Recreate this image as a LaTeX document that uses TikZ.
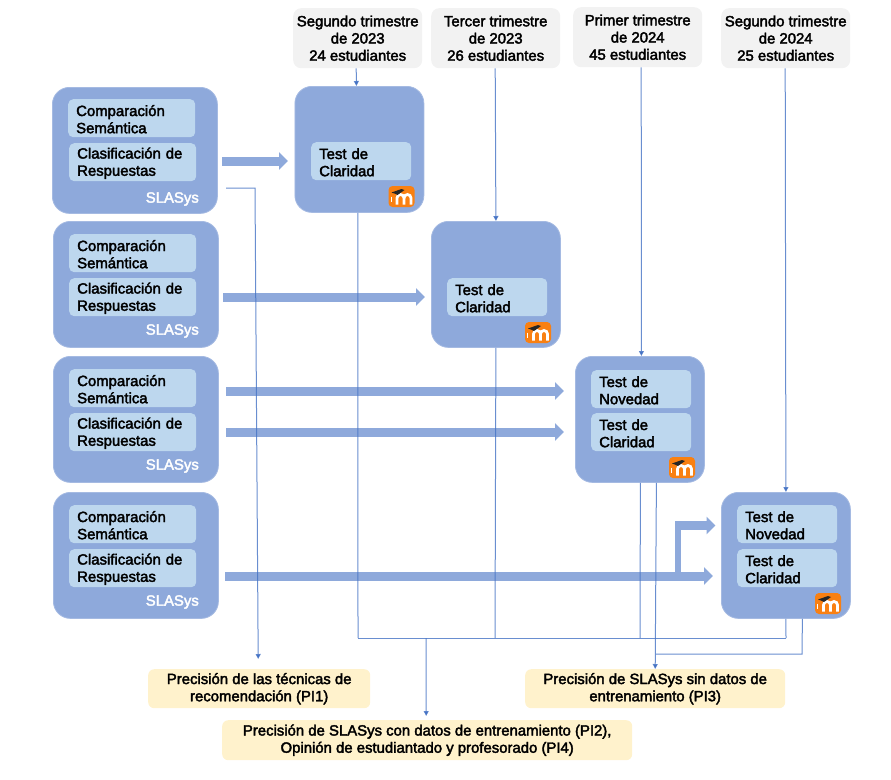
\documentclass[tikz,border=0pt]{standalone}
\usepackage{fontspec}
\setmainfont{Liberation Sans}[RawFeature={embolden=2.5}]
\usetikzlibrary{arrows.meta}
\definecolor{outerblue}{HTML}{8EA9DB}
\definecolor{innerblue}{HTML}{BDD7EE}
\definecolor{headgray}{HTML}{F2F2F2}
\definecolor{resultyellow}{HTML}{FFF2CC}
\definecolor{wireblue}{HTML}{4472C4}
\definecolor{moodleorange}{HTML}{F98012}
\begin{document}
\begin{tikzpicture}[x=1pt,y=-1pt,
    txt/.style={font=\fontsize{14.9}{17.2}\selectfont,text=black},
    outerbox/.style={draw=outerblue!80!white,line width=0.8pt,fill=outerblue,rounded corners=17pt,anchor=north west,minimum height=126pt},
    slabox/.style={outerbox,minimum width=165pt},
    moodlebox/.style={outerbox,minimum width=129pt},
    methodbox/.style={txt,fill=innerblue,rounded corners=5pt,anchor=north west,align=left,text width=111pt,inner xsep=8pt,inner ysep=0pt,minimum height=38pt,execute at begin node={\rule{0pt}{13pt}}},
    testbox/.style={methodbox,text width=84pt},
    slalabel/.style={font=\fontsize{14.9}{17}\selectfont,text=white,anchor=east,inner sep=0pt},
    headbox/.style={txt,fill=headgray,rounded corners=8pt,anchor=north west,align=center,minimum width=129pt,minimum height=60pt,inner sep=0pt},
    resultbox/.style={txt,fill=resultyellow,rounded corners=6pt,anchor=north west,align=center,minimum height=39pt,inner sep=0pt},
    bigarrow/.style={draw=outerblue,line width=9pt,-{Triangle[length=9pt,width=17pt]}},
    thinline/.style={draw=wireblue,draw opacity=0.8,line width=1pt},
    thinarrow/.style={thinline,-{Triangle[length=5pt,width=5pt]}},
    moodle/.pic={
      \fill[moodleorange,rounded corners=4pt] (-13,-10.5) rectangle (13,10.5);
      \draw[white,line width=2.8pt] (-4.5,8) -- (-4.5,1.5) arc[start angle=180,end angle=360,radius=3.5] -- (2.5,8);
      \draw[white,line width=2.8pt] (2.5,1.5) arc[start angle=180,end angle=360,radius=3.5] -- (9.5,8);
      \draw[white,line width=0.8pt] (-10.5,0) -- (-10.5,5);
      \fill[black!85] (-10,-4) -- (0,-7.5) -- (3,-6.5) -- (-4,-1.5) -- (-7,-3) -- cycle;
    }]
\useasboundingbox (0,0) rectangle (891,779);
\draw (52,87) node[slabox] (sla1) {};
\draw (53,221) node[slabox] (sla2) {};
\draw (53,356) node[slabox] (sla3) {};
\draw (53,492) node[slabox] (sla4) {};
\draw (68,99) node[methodbox] (comp1) {Comparación\\Semántica};
\draw (69,143) node[methodbox] (clas1) {Clasificación de\\Respuestas};
\draw (69,234) node[methodbox] (comp2) {Comparación\\Semántica};
\draw (69,278) node[methodbox] (clas2) {Clasificación de\\Respuestas};
\draw (69,369) node[methodbox] (comp3) {Comparación\\Semántica};
\draw (69,413) node[methodbox] (clas3) {Clasificación de\\Respuestas};
\draw (69,505) node[methodbox] (comp4) {Comparación\\Semántica};
\draw (69,549) node[methodbox] (clas4) {Clasificación de\\Respuestas};
\draw (199,199) node[slalabel] (lab1) {SLASys};
\draw (199,331) node[slalabel] (lab2) {SLASys};
\draw (199,466) node[slalabel] (lab3) {SLASys};
\draw (199,602) node[slalabel] (lab4) {SLASys};
\draw (294.5,86) node[moodlebox] (test1) {};
\draw (431,221) node[moodlebox] (test2) {};
\draw (575,356) node[moodlebox] (test3) {};
\draw (721,492) node[moodlebox] (test4) {};
\draw (311,142) node[testbox] (cla1) {Test de\\Claridad};
\draw (447,278) node[testbox] (cla2) {Test de\\Claridad};
\draw (591,370) node[testbox] (nov3) {Test de\\Novedad};
\draw (591,413) node[testbox] (cla3) {Test de\\Claridad};
\draw (737,505) node[testbox] (nov4) {Test de\\Novedad};
\draw (737,549) node[testbox] (cla4) {Test de\\Claridad};
\pic at (401.5,196.5) {moodle};
\pic at (538,332.5) {moodle};
\pic at (682,467.5) {moodle};
\pic at (828,603.5) {moodle};
\draw (293,8) node[headbox] (head1) {Segundo trimestre\\de 2023\\24 estudiantes};
\draw (431,8) node[headbox] (head2) {Tercer trimestre\\de 2023\\26 estudiantes};
\draw (573,7) node[headbox] (head3) {Primer trimestre\\de 2024\\45 estudiantes};
\draw (721,8) node[headbox] (head4) {Segundo trimestre\\de 2024\\25 estudiantes};
\draw (148,669) node[resultbox,minimum width=222pt] (pi1) {Precisión de las técnicas de\\recomendación (PI1)};
\draw (525,669) node[resultbox,minimum width=260pt] (pi3) {Precisión de SLASys sin datos de\\entrenamiento (PI3)};
\draw (222,720) node[resultbox,minimum width=410pt,minimum height=40pt] (pi2) {Precisión de SLASys con datos de entrenamiento (PI2),\\Opinión de estudiantado y profesorado (PI4)};
\coordinate (big1a) at (222,161);
\coordinate (big1b) at (288,161);
\coordinate (big2a) at (223,297);
\coordinate (big2b) at (425,297);
\coordinate (big3a) at (226,391);
\coordinate (big3b) at (564,391);
\coordinate (big4a) at (226,432);
\coordinate (big4b) at (564,432);
\coordinate (big5a) at (225,576);
\coordinate (big5b) at (713,576);
\coordinate (big6a) at (678,576);
\coordinate (big6b) at (678,525.5);
\coordinate (big6c) at (675,525.5);
\coordinate (big6d) at (715.5,525.5);
\draw[bigarrow] (big1a) -- (big1b);
\draw[bigarrow] (big2a) -- (big2b);
\draw[bigarrow] (big3a) -- (big3b);
\draw[bigarrow] (big4a) -- (big4b);
\draw[bigarrow] (big5a) -- (big5b);
\draw[draw=outerblue,line width=6pt] (big6a) -- (big6b);
\draw[bigarrow] (big6c) -- (big6d);
\coordinate (wire1a) at (226,188);
\coordinate (wire1b) at (255,188);
\coordinate (join1) at (358,638);
\coordinate (join2) at (495,638);
\coordinate (join3) at (640,638);
\coordinate (join4) at (786,638);
\coordinate (join5) at (426,638);
\coordinate (join6) at (802,654);
\coordinate (join7) at (656,654);
\draw[thinarrow] ([xshift=-1.5pt]head1.south) -- ([xshift=-3pt]test1.north);
\draw[thinarrow] ([xshift=-0.5pt]head2.south) -- (test2.north);
\draw[thinarrow] ([xshift=3.5pt]head3.south) -- ([xshift=1.5pt]test3.north);
\draw[thinarrow] ([xshift=-0.5pt]head4.south) -- (test4.north);
\draw[thinarrow] (wire1a) -- (wire1b) -- ([xshift=-1pt,yshift=10pt]pi1.north);
\draw[thinline] ([xshift=-1.5pt]test1.south) -- (join1);
\draw[thinline] (test2.south) -- (join2);
\draw[thinline] ([xshift=0.5pt]test3.south) -- (join3);
\draw[thinline] (test4.south) -- (join4);
\draw[thinline] (join1) -- (join4);
\draw[thinarrow] (join5) -- ([xshift=-1pt,yshift=4pt]pi2.north);
\draw[thinarrow] ([xshift=16.5pt]test3.south) -- (pi3.north);
\draw[thinline] ([xshift=16.5pt]test4.south) -- (join6) -- (join7);
\end{tikzpicture}
\end{document}
